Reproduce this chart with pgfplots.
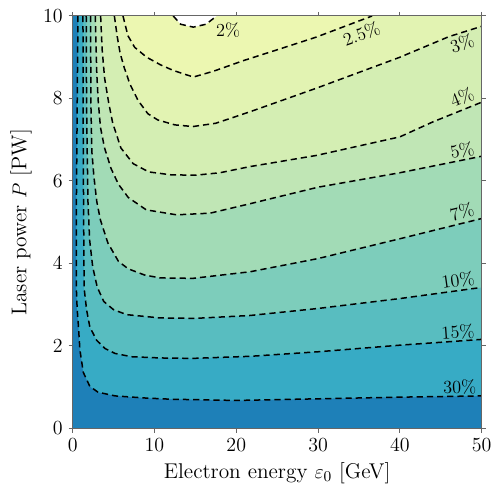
\documentclass[border=0pt]{standalone}
\usepackage{pgfplots}
\usepackage{pgfplotstable}
\pgfplotsset{compat=1.18}
\definecolor{b0}{RGB}{30,128,184}
\definecolor{b1}{RGB}{55,171,197}
\definecolor{b2}{RGB}{88,189,192}
\definecolor{b3}{RGB}{125,205,187}
\definecolor{b4}{RGB}{162,219,182}
\definecolor{b5}{RGB}{192,230,181}
\definecolor{b6}{RGB}{212,238,179}
\definecolor{b7}{RGB}{226,243,178}
\definecolor{b8}{RGB}{236,247,177}
\tikzset{
  cl/.style={black, line width=0.9pt, dash pattern=on 3.7pt off 2.4pt},
  lab/.style={font=\fontsize{11}{13}\selectfont, inner sep=0pt},
}
% contour 30%
\pgfplotstableread{
x y
50 10
0.65 10
0.56 7.95
0.46 5.5
0.45 3.4
0.55 2.9
0.68 2.55
0.89 1.9
1.3 1.36
2.1 1.02
3.1 0.88
5.2 0.79
8.8 0.74
12 0.71
20 0.68
30 0.72
40 0.76
50 0.79
}\cA
% contour 15%
\pgfplotstableread{
x y
50 10
1.26 10
1.28 7.95
1.3 6.7
1.33 5.5
1.4 3.4
1.71 2.87
2.1 2.46
2.93 2.14
3.95 1.94
5.17 1.82
7.2 1.74
10.7 1.71
14.7 1.70
21.7 1.75
30 1.86
40 2.02
50 2.16
}\cB
% contour 10%
\pgfplotstableread{
x y
50 10
1.66 10
1.7 7.95
1.78 6.7
1.87 5.5
2.08 4.56
2.45 3.92
3.0 3.43
3.8 3.08
5.0 2.88
6.6 2.76
10.7 2.68
15 2.67
21.7 2.74
30 2.91
40 3.15
50 3.42
}\cC
% contour 7%
\pgfplotstableread{
x y
50 10
2.2 10
2.22 7.95
2.35 6.7
2.6 6.1
2.95 5.5
3.4 5.05
4.3 4.5
5.6 4.05
6.8 3.87
8.8 3.72
10.7 3.65
14.7 3.64
21.7 3.80
30 4.12
40 4.6
50 5.09
}\cD
% contour 5%
\pgfplotstableread{
x y
50 10
2.77 10
2.95 8.6
3.12 7.95
3.4 7.3
3.9 6.8
4.7 6.3
5.6 5.92
6.8 5.6
9 5.3
12.7 5.18
16.8 5.22
21.7 5.45
30 5.85
40 6.2
50 6.6
}\cE
% contour 4%
\pgfplotstableread{
x y
50 10
3.42 10
3.6 9.2
3.9 8.5
4.4 7.9
4.9 7.4
5.9 6.8
7.4 6.42
9.3 6.22
12 6.15
15 6.14
18 6.2
21.7 6.35
29.8 6.62
40 7.07
44 7.43
50 7.91
}\cF
% contour 3%
\pgfplotstableread{
x y
50 10
5.1 10
5.45 9.5
5.8 9.1
6.3 8.75
7.0 8.35
8.0 7.95
9.2 7.63
10.4 7.48
12.5 7.36
14.7 7.32
17.5 7.4
21.7 7.68
29.8 8.25
40 9.0
46 9.5
50 9.75
}\cG
% contour 2.5%
\pgfplotstableread{
x y
6.15 10
6.76 9.52
7.58 9.24
9.05 9.0
10.7 8.82
12.3 8.68
14.75 8.52
17.2 8.66
20.9 8.92
25.3 9.2
29.8 9.49
36.6 10
}\cH
% contour 2%
\pgfplotstableread{
x y
12.3 10
13.2 9.8
14.75 9.73
16.3 9.8
17.6 10
}\cI
\begin{document}
\begin{tikzpicture}
\begin{axis}[
  width=245.4pt, height=247.5pt, scale only axis,
  xmin=0, xmax=50, ymin=0, ymax=10,
  xtick={0,10,...,50}, ytick={0,2,...,10},
  tick align=outside, major tick length=2.5pt,
  axis line style={draw=black!60, line width=0.6pt},
  every tick/.style={draw=black!60, line width=0.6pt},
  tick label style={font=\fontsize{11.5}{13}\selectfont},
  label style={font=\fontsize{12.8}{15}\selectfont},
  xlabel={Electron energy $\varepsilon_0$ [GeV]},
  ylabel={Laser power $P$ [PW]},
  axis on top,
]
\addplot[draw=none, fill=b0] coordinates {(0,0) (50,0) (50,10) (0,10)};
\addplot[draw=none, fill=b1] table {\cA};
\addplot[draw=none, fill=b2] table {\cB};
\addplot[draw=none, fill=b3] table {\cC};
\addplot[draw=none, fill=b4] table {\cD};
\addplot[draw=none, fill=b5] table {\cE};
\addplot[draw=none, fill=b6] table {\cF};
\addplot[draw=none, fill=b7] table {\cG};
\addplot[draw=none, fill=b8] table {\cH};
\addplot[draw=none, fill=white] table {\cI};
\addplot[cl, skip coords between index={0}{1}] table {\cA};
\addplot[cl, skip coords between index={0}{1}] table {\cB};
\addplot[cl, skip coords between index={0}{1}] table {\cC};
\addplot[cl, skip coords between index={0}{1}] table {\cD};
\addplot[cl, skip coords between index={0}{1}] table {\cE};
\addplot[cl, skip coords between index={0}{1}] table {\cF};
\addplot[cl, skip coords between index={0}{1}] table {\cG};
\addplot[cl] table {\cH};
\addplot[cl] table {\cI};
\node[lab] at (axis cs:19.0,9.65) {2\%};
\node[lab, rotate=20] at (axis cs:35.3,9.57) {2.5\%};
\node[lab, rotate=19] at (axis cs:47.6,9.33) {3\%};
\node[lab, rotate=22] at (axis cs:47.6,8.03) {4\%};
\node[lab, rotate=11] at (axis cs:47.6,6.74) {5\%};
\node[lab, rotate=14] at (axis cs:47.6,5.25) {7\%};
\node[lab, rotate=8] at (axis cs:47.1,3.6) {10\%};
\node[lab, rotate=4] at (axis cs:47.1,2.34) {15\%};
\node[lab, rotate=1.5] at (axis cs:47.3,1.01) {30\%};
\end{axis}
\pgfresetboundingbox
\path[use as bounding box] ([shift={(-43.6pt,-33.9pt)}]current axis.south west) rectangle ([shift={(7.4pt,9.6pt)}]current axis.north east);
\end{tikzpicture}
\end{document}
